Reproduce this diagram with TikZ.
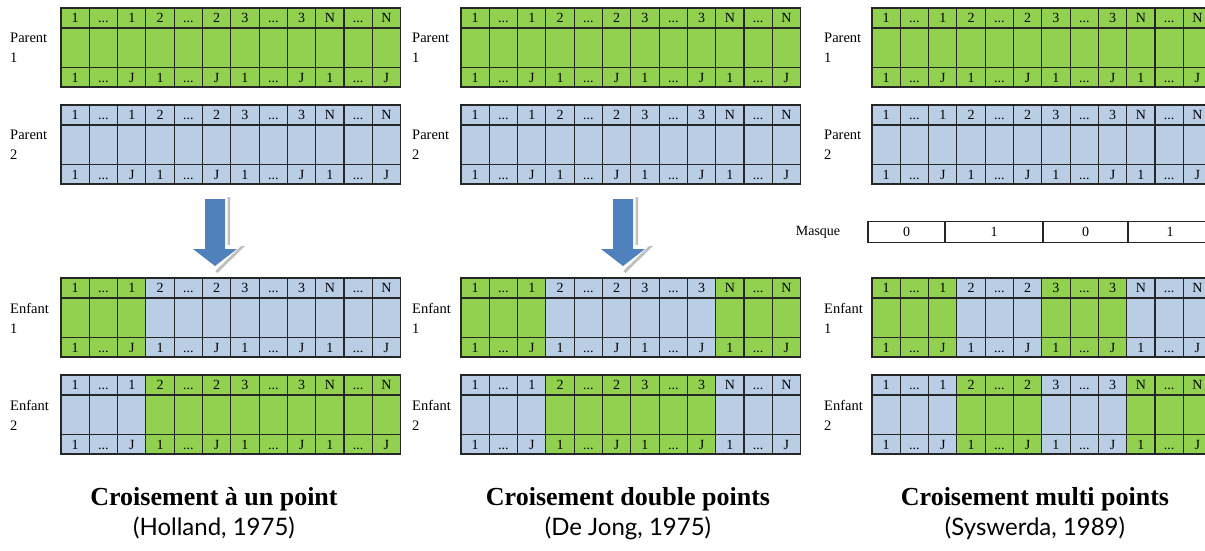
\documentclass[tikz,border=0pt]{standalone}
\usepackage{fontspec}
\setmainfont{Liberation Serif}
\newfontfamily\subfont{Lato}
\usepackage{xcolor}
\usetikzlibrary{positioning}

\definecolor{genegreen}{HTML}{92D050}
\definecolor{geneblue}{HTML}{B9CDE5}
\definecolor{arrowblue}{HTML}{4F81BD}
\newcommand{\gdots}{...}

\begin{document}
\begin{tikzpicture}[
    x=1pt, y=-1pt,
    cell/.style={
        rectangle,
        minimum width=28.3pt,
        inner sep=0pt,
        outer sep=0pt,
        text height=9.5pt,
        text depth=0pt,
        font=\fontsize{14}{16}\selectfont
    },
    toprow/.style={cell, minimum height=20pt},
    midrow/.style={cell, minimum height=39.5pt},
    botrow/.style={cell, minimum height=19.5pt},
    grid/.style={draw=black!85, line width=1.1pt},
    frame/.style={draw=black!85, line width=1.6pt},
    sidelabel/.style={
        anchor=west,
        align=left,
        inner sep=0pt,
        font=\fontsize{14.5}{20}\selectfont
    },
    maskcell/.style={
        rectangle,
        draw=black!85,
        line width=1.1pt,
        minimum height=20.5pt,
        inner sep=0pt,
        font=\fontsize{14}{16}\selectfont
    },
    title/.style={anchor=base, font=\fontsize{26}{30}\selectfont\bfseries},
    subtitle/.style={anchor=base, font=\subfont\fontsize{24}{28}\selectfont},
    arrowshadow/.style={fill=black!25},
    arrowedge/.style={fill=white},
    arrowbody/.style={fill=arrowblue}
]

\useasboundingbox (0,0) rectangle (1205,550);

% Chromosomes: name / left / top / colour of the four gene groups

\foreach \nm/\xo/\yo/\pa/\pb/\pc/\pd in {
    pa1/61/8/genegreen/genegreen/genegreen/genegreen,
    pa2/61/105/geneblue/geneblue/geneblue/geneblue,
    ea1/61/278/genegreen/geneblue/geneblue/geneblue,
    ea2/61/375/geneblue/genegreen/genegreen/genegreen,
    pb1/461/8/genegreen/genegreen/genegreen/genegreen,
    pb2/461/105/geneblue/geneblue/geneblue/geneblue,
    eb1/461/278/genegreen/geneblue/geneblue/genegreen,
    eb2/461/375/geneblue/genegreen/genegreen/geneblue,
    pc1/872/8/genegreen/genegreen/genegreen/genegreen,
    pc2/872/105/geneblue/geneblue/geneblue/geneblue,
    ec1/872/278/genegreen/geneblue/genegreen/geneblue,
    ec2/872/375/geneblue/genegreen/geneblue/genegreen}
{
    \foreach \grp/\lab/\fil in {0/1/\pa, 1/2/\pb, 2/3/\pc, 3/N/\pd} {
        \foreach \k/\ttop/\tbot in {0/\lab/1, 1/\gdots/\gdots, 2/\lab/J} {
            \pgfmathsetmacro{\cx}{\xo + (3*\grp+\k)*28.3 + 14.15}
            \node[toprow, fill=\fil] (\nm-\grp-\k-t) at (\cx, \yo+10) {\ttop};
            \node[midrow, fill=\fil] (\nm-\grp-\k-m) at (\cx, \yo+39.75) {};
            \node[botrow, fill=\fil] (\nm-\grp-\k-b) at (\cx, \yo+69.25) {\tbot};
        }
    }
    % grid lines over the filled cells
    \foreach \grp in {0,...,3} {
        \foreach \k in {0,1,2} {
            \foreach \r in {t,m,b} {
                \draw[grid] (\nm-\grp-\k-\r.north west) rectangle (\nm-\grp-\k-\r.south east);
            }
        }
    }
    \draw[frame] (\nm-0-0-t.north west) rectangle (\nm-3-2-b.south east);
}

% Side labels

\foreach \px/\pl in {10/a, 412/b, 824/c} {
    \node[sidelabel] (lab-p\pl1) at (\px, 48) {Parent\\1};
    \node[sidelabel] (lab-p\pl2) at (\px, 145) {Parent\\2};
    \node[sidelabel] (lab-e\pl1) at (\px, 318) {Enfant\\1};
    \node[sidelabel] (lab-e\pl2) at (\px, 415) {Enfant\\2};
}

% Mask

\node[font=\fontsize{14}{16}\selectfont] (masklabel) at (818, 232) {Masque};
\node[maskcell, minimum width=77pt] (mask0) at (906.5, 232) {0};
\node[maskcell, minimum width=98pt] (mask1) at (994, 232) {1};
\node[maskcell, minimum width=85pt] (mask2) at (1085.5, 232) {0};
\node[maskcell, minimum width=84pt] (mask3) at (1170, 232) {1};

% Block arrows

\foreach \ax in {215, 623} {
    \begin{scope}[shift={(\ax, 0)}]
        \fill[arrowshadow] (-10,197) -- (15,197) -- (15,246) -- (30,246)
            -- (2.5,273) -- (-25,246) -- (-10,246) -- cycle;
        \fill[arrowedge] (-12.5,195) -- (12.5,195) -- (12.5,245) -- (27,245)
            -- (0,271) -- (-27,245) -- (-12.5,245) -- cycle;
        \fill[arrowbody] (-10,199) -- (10,199) -- (10,249) -- (22,249)
            -- (0,266) -- (-22,249) -- (-10,249) -- cycle;
    \end{scope}
}

% Titles

\node[title] (title1) at (214, 505) {Croisement à un point};
\node[subtitle] (sub1) at (214, 535) {(Holland, 1975)};
\node[title] (title2) at (628, 505) {Croisement double points};
\node[subtitle] (sub2) at (628, 535) {(De Jong, 1975)};
\node[title] (title3) at (1035, 505) {Croisement multi points};
\node[subtitle] (sub3) at (1035, 535) {(Syswerda, 1989)};

\end{tikzpicture}
\end{document}
